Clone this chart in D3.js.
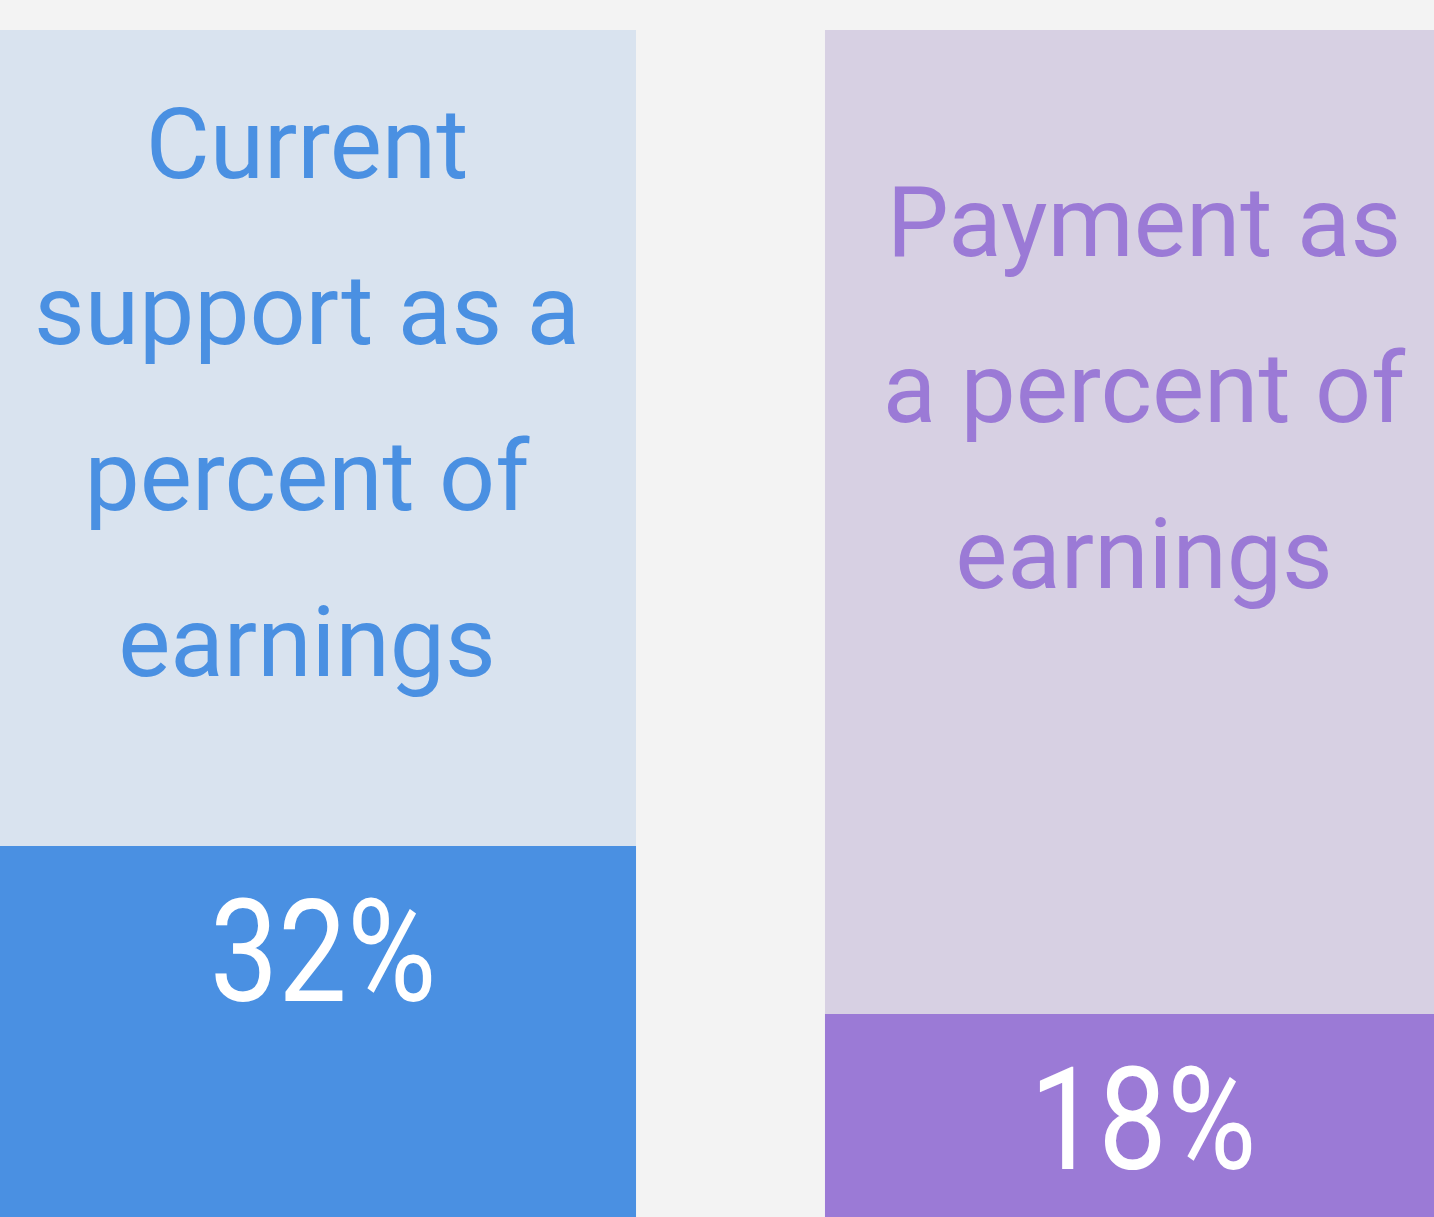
<!DOCTYPE html>
<html>
<head>
<meta charset="utf-8">
<script src="https://cdn.jsdelivr.net/npm/d3@7"></script>
<style>
  html, body { margin: 0; padding: 0; background: #f3f3f3; overflow: hidden; }
  svg { display: block; font-family: Roboto, "Noto Sans", sans-serif; }
</style>
</head>
<body>
<div id="vis"></div>
<script>
// data
const categories = ["current", "payment"];
const values = [32, 18];
const labels = [
  ["Current", "support as a", "percent of", "earnings"],
  ["Payment as", "a percent of", "earnings"]
];
const valueLabels = ["32%", "18%"];

const lightColors = ["#d9e3ef", "#d7d0e3"];
const darkColors = ["#4a90e2", "#9b7ad6"];

const width = 1434, height = 1217;

const svg = d3.select("#vis").append("svg")
  .attr("width", width)
  .attr("height", height);

svg.append("rect")
  .attr("width", width)
  .attr("height", height)
  .attr("fill", "#f3f3f3");

// columns run a bit off the picture on both sides
const x = d3.scaleBand()
  .domain(categories)
  .range([-22, 1483])
  .paddingInner(0.2231)
  .paddingOuter(0);

const y = d3.scaleLinear()
  .domain([0, 100])
  .range([1230, 30]);

// small nudges to the label centres
const labelShift = [0, -10];
const valueShift = [16, -11];
const lineH = 166;
const labelMid = [427, 422];

const col = svg.selectAll("g.col")
  .data(categories)
  .enter()
  .append("g")
  .attr("class", "col");

// background (100%)
col.append("rect")
  .attr("x", d => x(d))
  .attr("y", y(100))
  .attr("width", x.bandwidth())
  .attr("height", y(0) - y(100))
  .attr("fill", (d, i) => lightColors[i]);

// value fill
col.append("rect")
  .attr("x", d => x(d))
  .attr("y", (d, i) => y(values[i]))
  .attr("width", x.bandwidth())
  .attr("height", (d, i) => y(0) - y(values[i]))
  .attr("fill", (d, i) => darkColors[i]);

// text label
col.each(function(d, i) {
  const g = d3.select(this);
  const cx = x(d) + x.bandwidth() / 2 + labelShift[i];
  const lines = labels[i];
  g.selectAll("text.lbl")
    .data(lines)
    .enter()
    .append("text")
    .attr("class", "lbl")
    .attr("x", cx)
    .attr("y", (t, j) => labelMid[i] + (j - (lines.length - 1) / 2) * lineH)
    .attr("text-anchor", "middle")
    .attr("font-size", 98.4)
    .attr("fill", darkColors[i])
    .text(t => t);

  // value number, squeezed a little like a condensed face
  const vx = x(d) + x.bandwidth() / 2 + valueShift[i];
  const vy = y(values[i]) + 155;
  g.append("text")
    .attr("transform", `translate(${vx},${vy}) scale(0.86,1)`)
    .attr("text-anchor", "middle")
    .attr("font-size", 142)
    .attr("fill", "#ffffff")
    .text(valueLabels[i]);
});
</script>
</body>
</html>
